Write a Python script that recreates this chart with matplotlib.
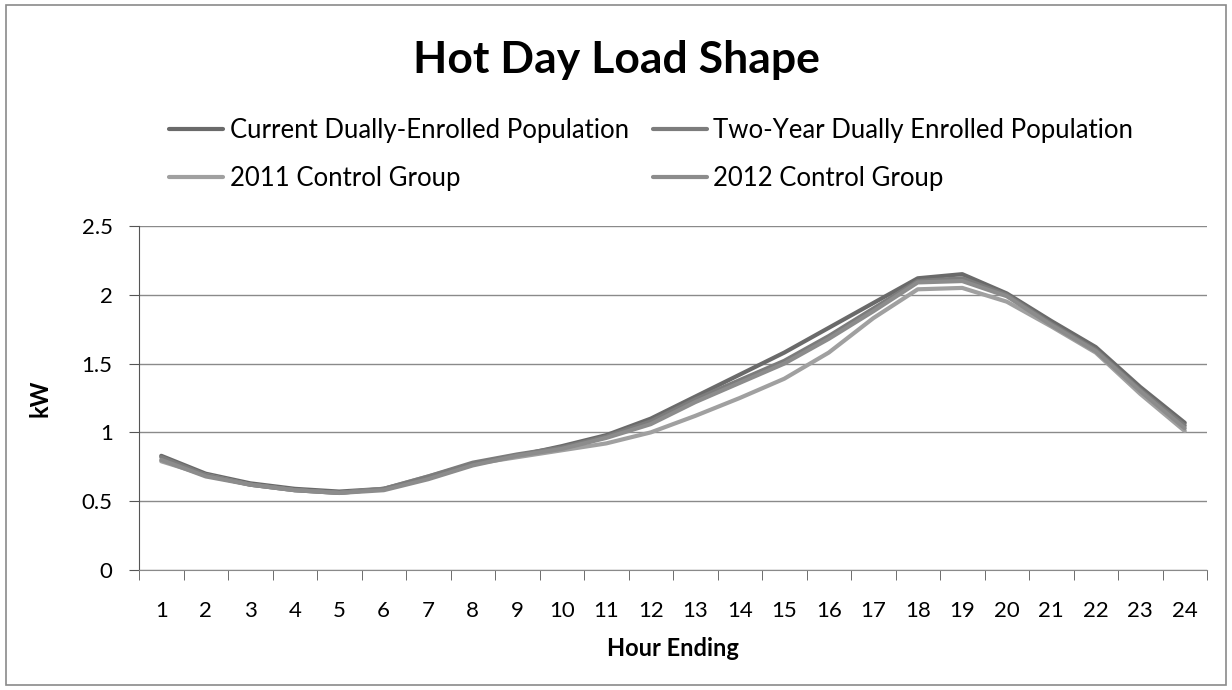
import matplotlib
matplotlib.use("Agg")
import matplotlib.pyplot as plt
from matplotlib.patches import Rectangle
import numpy as np

plt.rcParams['font.family'] = ['Lato', 'DejaVu Sans']

hours = list(range(1, 25))

# kW per hour
current_dual = [0.83, 0.70, 0.63, 0.59, 0.57, 0.59, 0.67, 0.77, 0.83, 0.90, 0.98, 1.10,
                1.26, 1.42, 1.58, 1.76, 1.94, 2.12, 2.15, 2.01, 1.81, 1.62, 1.33, 1.07]
two_year_dual = [0.82, 0.69, 0.62, 0.58, 0.56, 0.59, 0.68, 0.78, 0.84, 0.89, 0.97, 1.08,
                 1.24, 1.38, 1.52, 1.70, 1.90, 2.10, 2.12, 2.00, 1.79, 1.60, 1.31, 1.05]
control_2011 = [0.79, 0.69, 0.62, 0.58, 0.56, 0.59, 0.68, 0.77, 0.82, 0.87, 0.92, 1.00,
                1.12, 1.25, 1.39, 1.58, 1.83, 2.04, 2.05, 1.95, 1.77, 1.58, 1.28, 1.01]
control_2012 = [0.80, 0.68, 0.62, 0.58, 0.56, 0.58, 0.66, 0.76, 0.83, 0.88, 0.96, 1.06,
                1.22, 1.36, 1.50, 1.68, 1.88, 2.09, 2.10, 1.99, 1.78, 1.59, 1.30, 1.03]

series = [
    ("Current Dually-Enrolled Population", current_dual, '#6a6a6a'),
    ("2011 Control Group", control_2011, '#a0a0a0'),
    ("Two-Year Dually Enrolled Population", two_year_dual, '#7c7c7c'),
    ("2012 Control Group", control_2012, '#8c8c8c'),
]

fig = plt.figure(figsize=(12.32, 6.9), dpi=100)
ax = fig.add_axes([139 / 1232, 1 - 570 / 690, (1207 - 139) / 1232, (570 - 226) / 690])

# outer chart border
fig.patches.append(Rectangle((6 / 1232, 5 / 690), 1220 / 1232, 680 / 690,
                             transform=fig.transFigure, fill=False,
                             edgecolor='#8a8a8a', linewidth=1.2))

handles = []
for name, vals, col in series:
    h, = ax.plot(hours, vals, color=col, linewidth=3.0, label=name,
                 solid_joinstyle='round', solid_capstyle='round')
    handles.append(h)

ax.set_xlim(0.5, 24.5)
ax.set_ylim(0, 2.5)
ax.set_yticks(np.arange(0, 2.51, 0.5))
ax.set_yticklabels(['0', '0.5', '1', '1.5', '2', '2.5'])
ax.set_xticks(hours)
ax.set_xticklabels([str(h) for h in hours])
ax.set_xticks(np.arange(0.5, 24.6, 1), minor=True)
ax.tick_params(axis='x', which='major', length=0, pad=22, labelsize=16)
ax.tick_params(axis='x', which='minor', length=7, color='#555555', direction='out')
ax.tick_params(axis='y', length=7, color='#555555', pad=12, labelsize=16)

ax.grid(axis='y', color='#8a8a8a', linewidth=1.0)
ax.set_axisbelow(True)
for s in ['top', 'right']:
    ax.spines[s].set_visible(False)
ax.spines['left'].set_color('#555555')
ax.spines['bottom'].set_color('#8a8a8a')

ax.set_xlabel('Hour Ending', fontsize=17, fontweight='bold', labelpad=12)
ax.set_ylabel('kW', fontsize=17, fontweight='bold', labelpad=22)

fig.text(0.500, 1 - 60 / 690, 'Hot Day Load Shape', ha='center', va='center',
         fontsize=32, fontweight='bold')

fig.legend(handles=handles, loc='upper left', bbox_to_anchor=(146 / 1232, 1 - 95 / 690),
           ncol=2, frameon=False, fontsize=18.5, handlelength=2.1, handletextpad=0.25,
           columnspacing=0.95, labelspacing=0.9)

fig.savefig('out.png', dpi=100)
